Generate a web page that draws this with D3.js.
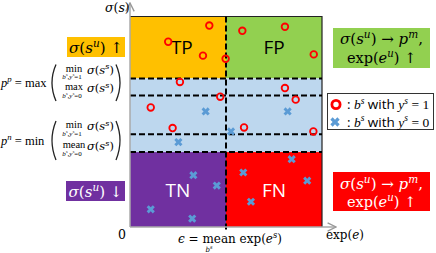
<!DOCTYPE html>
<html lang="en">
<head>
  <meta charset="UTF-8">
  <title>TP / FP / TN / FN regions</title>
  <script src="https://d3js.org/d3.v7.min.js"></script>
  <style>
    body { margin: 0; background: #fff; }
  </style>
</head>
<body>
  <svg width="436" height="253"></svg>

  <script>
    // data in abstract units (0..100 on both axes)
    const epsilon = 50;                              // mean exp(e^s)
    const yLines = [70.6, 62.5, 44.1, 35.6];         // pp upper, pp lower, pn upper, pn lower
    const quadLabels = ["TP", "FP", "TN", "FN"];

    const posX = [41.3, 58.5, 80.7, 19.9, 38.0, 49.8, 95.7, 26.0, 80.7, 47.0, 86.3, 10.8, 22.2, 59.4, 95.5];
    const posY = [95.7, 93.2, 95.1, 88.0, 81.4, 79.9, 82.0, 68.9, 66.0, 61.9, 60.5, 56.8, 47.0, 47.3, 45.4];
    const negX = [39.4, 82.1, 52.6, 25.2, 33.0, 45.2, 10.8, 32.4, 59.0, 84.2, 92.3, 63.0];
    const negY = [54.9, 54.9, 45.4, 40.3, 24.6, 19.7, 8.4, 4.0, 25.9, 32.2, 22.0, 12.0];

    const svg = d3.select("svg");
    const serif = "'DejaVu Serif', serif";
    const serif2 = "'Liberation Serif', serif";
    const sans = "'Open Sans', 'Liberation Sans', sans-serif";

    const x = d3.scaleLinear().domain([0, 100]).range([130, 322]);
    const y = d3.scaleLinear().domain([0, 100]).range([227, 16.5]);

    // regions
    const regions = [
      { x0: 0, x1: epsilon, y0: yLines[0], y1: 100, c: "#ffc000" },
      { x0: epsilon, x1: 100, y0: yLines[0], y1: 100, c: "#92d050" },
      { x0: 0, x1: 100, y0: yLines[3], y1: yLines[0], c: "#bdd7ee" },
      { x0: 0, x1: epsilon, y0: 0, y1: yLines[3], c: "#7030a0" },
      { x0: epsilon, x1: 100, y0: 0, y1: yLines[3], c: "#ff0000" }
    ];
    svg.selectAll("rect.region").data(regions).join("rect")
      .attr("class", "region")
      .attr("x", d => x(d.x0)).attr("y", d => y(d.y1))
      .attr("width", d => x(d.x1) - x(d.x0)).attr("height", d => y(d.y0) - y(d.y1))
      .attr("fill", d => d.c);

    // outline top / right
    svg.append("path")
      .attr("d", `M${x(0)},${y(100)}H${x(100)}V${y(0)}`)
      .attr("fill", "none").attr("stroke", "#222").attr("stroke-width", 1.2);

    // dashed thresholds
    svg.selectAll("line.th").data(yLines).join("line")
      .attr("class", "th")
      .attr("x1", x(0)).attr("x2", x(100))
      .attr("y1", d => y(d)).attr("y2", d => y(d))
      .attr("stroke", "#000").attr("stroke-width", 2).attr("stroke-dasharray", "6,3");

    svg.append("line")
      .attr("x1", x(epsilon)).attr("x2", x(epsilon))
      .attr("y1", y(100)).attr("y2", y(0) + 4)
      .attr("stroke", "#000").attr("stroke-width", 2).attr("stroke-dasharray", "6,3");

    // axes with arrows
    svg.append("defs").append("marker")
      .attr("id", "arr").attr("viewBox", "0 0 10 10")
      .attr("refX", 9).attr("refY", 5)
      .attr("markerWidth", 7).attr("markerHeight", 7)
      .attr("orient", "auto")
      .append("path").attr("d", "M1,1L9,5L1,9").attr("fill", "none")
      .attr("stroke", "#999").attr("stroke-width", 1.3);

    svg.append("line")
      .attr("x1", x(0)).attr("y1", y(0)).attr("x2", x(0)).attr("y2", 3)
      .attr("stroke", "#aaa").attr("stroke-width", 1.5).attr("marker-end", "url(#arr)");
    svg.append("line")
      .attr("x1", x(0)).attr("y1", y(0)).attr("x2", 336).attr("y2", y(0))
      .attr("stroke", "#aaa").attr("stroke-width", 1.5).attr("marker-end", "url(#arr)");

    // quadrant labels
    const quadPos = [[epsilon / 2 + 2, 100 - (100 - yLines[0]) / 2, "#000"],
                     [epsilon + (100 - epsilon) / 2, 100 - (100 - yLines[0]) / 2, "#000"],
                     [epsilon / 2, yLines[3] / 2, "#fff"],
                     [epsilon + (100 - epsilon) / 2, yLines[3] / 2, "#fff"]];
    svg.selectAll("text.quad").data(quadLabels).join("text")
      .attr("class", "quad")
      .attr("x", (d, i) => x(quadPos[i][0]))
      .attr("y", (d, i) => y(quadPos[i][1]) + 7)
      .attr("text-anchor", "middle")
      .attr("font-family", sans).attr("font-size", 19)
      .attr("fill", (d, i) => quadPos[i][2])
      .text(d => d);

    // points
    svg.selectAll("circle.pos").data(posX).join("circle")
      .attr("class", "pos")
      .attr("cx", d => x(d)).attr("cy", (d, i) => y(posY[i])).attr("r", 3.3)
      .attr("fill", "none").attr("stroke", "#ff0000").attr("stroke-width", 1.8);

    const cross = d3.symbol().type(d3.symbolCross).size(42);
    svg.selectAll("path.neg").data(negX).join("path")
      .attr("class", "neg")
      .attr("d", cross)
      .attr("transform", (d, i) => `translate(${x(d)},${y(negY[i])}) rotate(45)`)
      .attr("fill", "#5b9bd5");

    // rich text helper: parts = [text, flags] flags: i=italic, ^=sup, _=sub, s=sans
    function rich(px, py, parts, size, opts = {}) {
      const t = svg.append("text")
        .attr("x", px).attr("y", py)
        .attr("font-family", opts.font || serif).attr("font-size", size)
        .attr("fill", opts.fill || "#000")
        .attr("text-anchor", opts.anchor || "start");
      let shift = 0;
      parts.forEach(([txt, f = ""]) => {
        const sh = f.includes("^") ? -size * 0.38 : f.includes("_") ? size * 0.3 : 0;
        const ts = t.append("tspan")
          .attr("dy", sh - shift)
          .attr("font-size", sh !== 0 ? size * 0.7 : size)
          .attr("font-style", f.includes("i") ? "italic" : "normal")
          .text(txt);
        if (f.includes("s")) ts.attr("font-family", sans);
        shift = sh;
      });
      return t;
    }

    function box(x0, y0, w, h, fill) {
      svg.append("rect").attr("x", x0).attr("y", y0).attr("width", w).attr("height", h).attr("fill", fill);
    }

    // axis texts
    rich(105, 11.5, [["σ", "i"], ["("], ["s", "i"], [")"]], 12.5);
    rich(122, 239, [["0"]], 12.5, { anchor: "middle" });
    rich(326, 239, [["exp("], ["e", "i"], [")"]], 12);
    rich(178, 242.5, [["ϵ", "i"], [" = mean exp("], ["e", "i"], ["s", "i^"], [")"]], 12);
    rich(209, 252, [["b", "i"], ["s", "i^"]], 7, { anchor: "middle" });

    // left boxes
    box(67, 37, 58, 20, "#ffc000");
    rich(96, 52.5, [["σ", "i"], ["("], ["s", "i"], ["u", "i^"], [") ↑"]], 15, { anchor: "middle" });
    box(66, 181, 59, 20, "#7030a0");
    rich(95.5, 196.5, [["σ", "i"], ["("], ["s", "i"], ["u", "i^"], [") ↓"]], 15, { anchor: "middle", fill: "#fff" });

    // right boxes
    box(333, 28, 97, 40, "#92d050");
    rich(381.5, 44, [["σ", "i"], ["("], ["s", "i"], ["u", "i^"], [") → "], ["p", "i"], ["m", "i^"], [","]], 15, { anchor: "middle" });
    rich(381.5, 62.5, [["exp("], ["e", "i"], ["u", "i^"], [") ↑"]], 14.5, { anchor: "middle" });
    box(333, 172, 97, 39, "#ff0000");
    rich(381.5, 188.5, [["σ", "i"], ["("], ["s", "i"], ["u", "i^"], [") → "], ["p", "i"], ["m", "i^"], [","]], 15, { anchor: "middle", fill: "#fff" });
    rich(381.5, 206.5, [["exp("], ["e", "i"], ["u", "i^"], [") ↑"]], 14.5, { anchor: "middle", fill: "#fff" });

    // legend
    svg.append("rect").attr("x", 327.5).attr("y", 93.5).attr("width", 106).attr("height", 36)
      .attr("fill", "#fff").attr("stroke", "#333").attr("stroke-width", 1);
    svg.append("circle").attr("cx", 336).attr("cy", 104.5).attr("r", 4.1)
      .attr("fill", "none").attr("stroke", "#ff0000").attr("stroke-width", 2.8);
    svg.append("path").attr("d", d3.symbol().type(d3.symbolCross).size(55))
      .attr("transform", "translate(335,122) rotate(45)").attr("fill", "#5b9bd5");
    rich(347, 109, [[":", "s"], [" b", "i"], ["s", "i^"], [" with ", "s"], ["y", "i"], ["s", "i^"], [" = 1"]], 13.5, { font: serif2 });
    rich(347, 126.5, [[":", "s"], [" b", "i"], ["s", "i^"], [" with ", "s"], ["y", "i"], ["s", "i^"], [" = 0"]], 13.5, { font: serif2 });

    // threshold formulas
    function paren(xp, y0, y1, dir) {
      const m = (y0 + y1) / 2;
      svg.append("path")
        .attr("d", `M${xp},${y0} Q${xp - 8 * dir},${m} ${xp},${y1}`)
        .attr("fill", "none").attr("stroke", "#222").attr("stroke-width", 1.3);
    }
    function formula(lhs, op, rows, yTop, yBot) {
      const mid = (yTop + yBot) / 2;
      rich(1, mid + 4, lhs.concat([[" = " + op]]), 12.5, { font: serif2 });
      paren(56, yTop, yBot, 1);
      paren(116, yTop, yBot, -1);
      rows.forEach((r, k) => {
        const yc = k === 0 ? yTop + 4 : yTop + (yBot - yTop) * 0.62;
        rich(74, yc + 3, [[r[0]]], 10.5, { anchor: "middle", font: serif2 });
        rich(72, yc + 10.5, [["b", "i"], ["s", "i^"], [","], ["y", "i"], ["s", "i^"], ["=" + r[1]]], 7, { anchor: "middle", font: serif2 });
        rich(87, yc + 5, [["σ", "i"], ["("], ["s", "i"], ["s", "i^"], [")"]], 11.5);
      });
    }
    formula([["p", "i"], ["p", "i^"]], "max", [["min", 1], ["max", 0]], 64.5, 101);
    formula([["p", "i"], ["n", "i^"]], "min", [["min", 1], ["mean", 0]], 121, 160);
  </script>
</body>
</html>
